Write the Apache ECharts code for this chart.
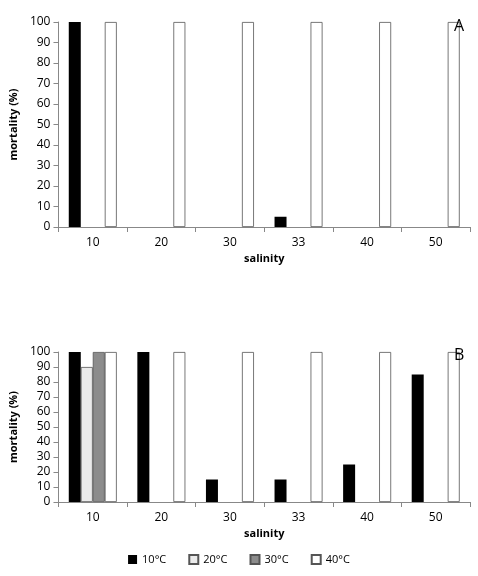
<!DOCTYPE html><html><head><meta charset="utf-8"><script src="https://cdn.jsdelivr.net/npm/echarts@6/dist/echarts.min.js"></script></head><body style="margin:0"><div id="c" style="width:478px;height:576px"></div><script>
const categories=['10','20','30','33','40','50'];
const yTicks=[0,10,20,30,40,50,60,70,80,90,100];
const A10=[100,'-','-',5,'-','-'],A20=['-','-','-','-','-','-'],A30=['-','-','-','-','-','-'],A40=[100,100,100,100,100,100];
const B10=[100,100,15,15,25,85],B20=[90,'-','-','-','-','-'],B30=[100,'-','-','-','-','-'],B40=[100,100,100,100,100,100];
const names=['10°C','20°C','30°C','40°C'];
const colors=['#000','#ebebeb','#8c8c8c','#fff'];
const ff='Open Sans, sans-serif';
function xa(i){return{type:'category',gridIndex:i,data:categories,name:'salinity',nameLocation:'middle',nameGap:26,nameTextStyle:{fontWeight:'bold',fontSize:11,color:'#000',fontFamily:ff},axisLine:{lineStyle:{color:'#888'}},axisTick:{show:true,lineStyle:{color:'#888'}},axisLabel:{color:'#000',fontSize:12,fontFamily:ff,margin:10},splitLine:{show:false}};}
function ya(i){return{type:'value',gridIndex:i,min:0,max:100,interval:10,name:'mortality (%)',nameLocation:'middle',nameGap:32,nameTextStyle:{fontWeight:'bold',fontSize:11,color:'#000',fontFamily:ff},axisLine:{show:true,lineStyle:{color:'#888'}},axisTick:{show:true,lineStyle:{color:'#888'}},axisLabel:{color:'#000',fontSize:12,fontFamily:ff},splitLine:{show:false}};}
const series=[];
[[A10,A20,A30,A40],[B10,B20,B30,B40]].forEach((set,g)=>set.forEach((d,k)=>series.push({name:names[k],type:'bar',xAxisIndex:g,yAxisIndex:g,data:d,barGap:'0%',barCategoryGap:'30%',itemStyle:{color:colors[k],borderColor:'#555',borderWidth:k===0?0:0.8},silent:true})));
const ch=echarts.init(document.getElementById('c'));
ch.setOption({animation:false,
grid:[{left:56,right:8,top:22,height:205},{left:56,right:8,top:352,height:150}],
xAxis:[xa(0),xa(1)],yAxis:[ya(0),ya(1)],series,
legend:{bottom:6,left:'center',icon:'rect',itemWidth:9,itemHeight:9,itemGap:22,data:names,textStyle:{fontSize:11,fontFamily:ff,color:'#000'}},
graphic:[{type:'text',z:100,left:454,top:18,style:{text:'A',fontSize:16,fontFamily:ff,fill:'#000'}},{type:'text',z:100,left:454,top:347,style:{text:'B',fontSize:16,fontFamily:ff,fill:'#000'}}]});
</script></body></html>
